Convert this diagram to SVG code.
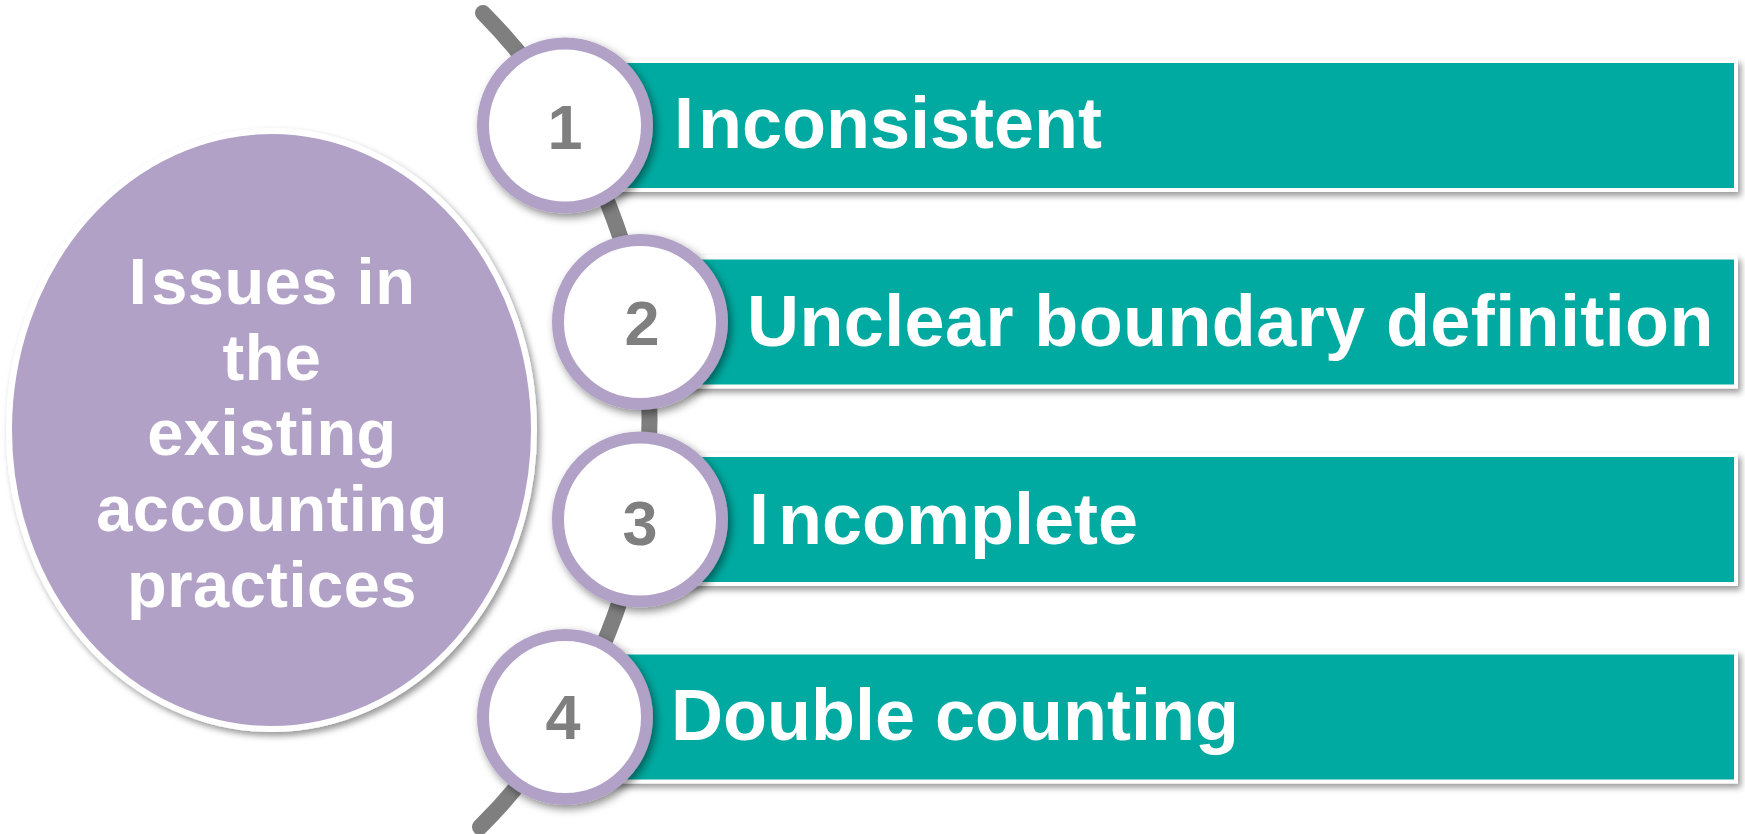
<svg xmlns="http://www.w3.org/2000/svg" width="1745" height="834" viewBox="0 0 1745 834">
  <defs>
    <filter id="sh" x="-10%" y="-10%" width="125%" height="130%">
      <feDropShadow dx="3" dy="4" stdDeviation="3" flood-color="#000" flood-opacity="0.4"/>
    </filter>
    <filter id="shc" x="-20%" y="-20%" width="150%" height="150%">
      <feDropShadow dx="3" dy="4" stdDeviation="4" flood-color="#000" flood-opacity="0.45"/>
    </filter>
  </defs>
  <style>
    .bar { fill: #00AAA0; stroke: #FFFFFF; stroke-width: 4; filter: url(#sh); }
    .ring { fill: #FFFFFF; stroke: #B1A1C7; stroke-width: 12; filter: url(#shc); }
    .num { font-family: "Liberation Sans", Arial, sans-serif; font-weight: bold; font-size: 63px; fill: #7F7F7F; text-anchor: middle; }
    .lbl { font-family: "Liberation Sans", Arial, sans-serif; font-weight: bold; font-size: 72px; fill: #FFFFFF; }
    .hub { font-family: "Liberation Sans", Arial, sans-serif; font-weight: bold; font-size: 65px; fill: #FFFFFF; text-anchor: middle; letter-spacing: 0.5px; }
  </style>

  <g id="connectors">
    <path d="M 483 13 A 577 577 0 0 1 480 827" fill="none" stroke="#7F7F7F" stroke-width="16" stroke-linecap="round"/>
  </g>

  <g id="hub">
    <ellipse cx="271.5" cy="430" rx="262.5" ry="299" fill="#B1A1C7" stroke="#FFFFFF" stroke-width="6" filter="url(#sh)"/>
    <text class="hub" x="272" y="304">I<tspan dx="4">ssues in</tspan></text>
    <text class="hub" x="272" y="379.5">the</text>
    <text class="hub" x="272" y="455">existing</text>
    <text class="hub" x="272" y="531">accounting</text>
    <text class="hub" x="272" y="607">practices</text>
  </g>

  <g id="item1">
    <rect class="bar" x="565" y="61" width="1171" height="129"/>
    <circle class="ring" cx="565" cy="125.5" r="82"/>
    <text class="num" x="565" y="149">1</text>
    <text class="lbl" x="674" y="147.5">I<tspan dx="4">nconsistent</tspan></text>
  </g>

  <g id="item2">
    <rect class="bar" x="640" y="257.5" width="1096" height="129"/>
    <circle class="ring" cx="640" cy="322" r="82"/>
    <text class="num" x="642" y="345">2</text>
    <text class="lbl" x="747" y="345.5" letter-spacing="0.4">Unclear boundary definition</text>
  </g>

  <g id="item3">
    <rect class="bar" x="640" y="455" width="1096" height="129"/>
    <circle class="ring" cx="640" cy="519.5" r="82"/>
    <text class="num" x="640" y="544.5">3</text>
    <text class="lbl" x="749" y="543.5">I<tspan dx="9">ncomplete</tspan></text>
  </g>

  <g id="item4">
    <rect class="bar" x="565" y="652.5" width="1171" height="129"/>
    <circle class="ring" cx="565" cy="717" r="82"/>
    <text class="num" x="563" y="739">4</text>
    <text class="lbl" x="671" y="740">Double counting</text>
  </g>
</svg>
